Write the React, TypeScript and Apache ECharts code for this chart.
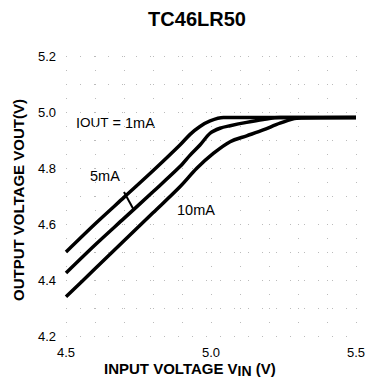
import React, { useEffect, useRef } from "react";
import * as echarts from "echarts";

const title = "TC46LR50";
const xTicks = [4.5, 5.0, 5.5];
const yTicks = [4.2, 4.4, 4.6, 4.8, 5.0, 5.2];

const vin1 = [4.5, 4.6, 4.7, 4.8, 4.893, 4.928, 4.962, 4.997, 5.043, 5.5];
const vout1 = [4.5, 4.6, 4.695, 4.79, 4.882, 4.92, 4.948, 4.968, 4.98, 4.98];

const vin5 = [4.5, 4.6, 4.7, 4.8, 4.893, 4.928, 4.962, 4.997, 5.031, 5.066, 5.123, 5.18, 5.238, 5.5];
const vout5 = [4.425, 4.525, 4.62, 4.715, 4.805, 4.846, 4.882, 4.924, 4.942, 4.951, 4.963, 4.973, 4.98, 4.98];

const vin10 = [4.5, 4.6, 4.7, 4.8, 4.893, 4.951, 5.008, 5.066, 5.123, 5.18, 5.238, 5.296, 5.5];
const vout10 = [4.34, 4.44, 4.54, 4.64, 4.733, 4.799, 4.852, 4.894, 4.915, 4.936, 4.96, 4.978, 4.98];

const leaderX = [4.7, 4.734];
const leaderY = [4.714, 4.65];

const zip = (a: number[], b: number[]) => a.map((v, i) => [v, b[i]]);

export default function App() {
  const ref = useRef<HTMLDivElement>(null);
  useEffect(() => {
    if (!ref.current) return;
    document.body.style.margin = "0";
    const chart = echarts.init(ref.current, undefined, { renderer: "svg" });
    const font = "'Liberation Sans', Arial, sans-serif";
    const lineSeries = (name: string, data: number[][], width = 3.5) => ({
      type: "line",
      name,
      data,
      showSymbol: false,
      smooth: 0.3,
      lineStyle: { color: "#000", width },
      silent: true,
    });
    chart.setOption({
      animation: false,
      backgroundColor: "#fff",
      title: {
        text: title,
        left: 192,
        textAlign: "center",
        top: 4,
        textStyle: { fontFamily: font, fontWeight: "bold", fontSize: 20, color: "#000" },
      },
      grid: { left: 66, right: 24, top: 56, bottom: 48 },
      xAxis: {
        type: "value",
        min: 4.5,
        max: 5.5,
        interval: 0.1,
        axisLine: { show: false },
        axisTick: { show: false },
        axisLabel: {
          fontFamily: font,
          fontSize: 13,
          color: "#000",
          margin: 10,
          formatter: (v: number) => {
            const t = xTicks.find((x) => Math.abs(x - v) < 1e-6);
            return t !== undefined ? t.toFixed(1) : "";
          },
        },
        splitLine: { show: true, lineStyle: { color: "#bbb", type: [1, 13], width: 1 } },
      },
      yAxis: {
        type: "value",
        min: 4.2,
        max: 5.2,
        interval: 0.1,
        axisLine: { show: false },
        axisTick: { show: false },
        axisLabel: {
          fontFamily: font,
          fontSize: 13,
          color: "#000",
          margin: 10,
          formatter: (v: number) => {
            const t = yTicks.find((y) => Math.abs(y - v) < 1e-6);
            return t !== undefined ? t.toFixed(1) : "";
          },
        },
        splitLine: { show: true, lineStyle: { color: "#bbb", type: [1, 13], width: 1 } },
      },
      graphic: [
        {
          type: "text",
          left: 104,
          top: 361,
          style: {
            text: "{b|INPUT VOLTAGE V}{s|IN}{b| (V)}",
            rich: {
              b: { fontFamily: font, fontWeight: "bold", fontSize: 15, fill: "#000" },
              s: { fontFamily: font, fontWeight: "bold", fontSize: 14, fill: "#000", verticalAlign: "bottom", padding: [4, 0, 0, 0] },
            },
          },
        },
        {
          type: "text",
          x: 11,
          y: 301,
          rotation: Math.PI / 2,
          style: {
            text: "{b|OUTPUT VOLTAGE VOUT(V)}",
            rich: {
              b: { fontFamily: font, fontWeight: "bold", fontSize: 15, fill: "#000" },
            },
            verticalAlign: "top",
          },
        },
        {
          type: "text",
          left: 76,
          top: 115,
          style: {
            text: "{a|I}{s|OUT}{a| = 1mA}",
            rich: {
              a: { fontFamily: font, fontSize: 14.5, fill: "#000" },
              s: { fontFamily: font, fontSize: 13.5, fill: "#000" },
            },
          },
        },
        {
          type: "text",
          left: 90,
          top: 168,
          style: { text: "5mA", fontFamily: font, fontSize: 14.5, fill: "#000" },
        },
        {
          type: "text",
          left: 177,
          top: 202,
          style: { text: "10mA", fontFamily: font, fontSize: 14.5, fill: "#000" },
        },
      ],
      series: [
        lineSeries("1mA", zip(vin1, vout1)),
        lineSeries("5mA", zip(vin5, vout5)),
        lineSeries("10mA", zip(vin10, vout10)),
        { ...lineSeries("leader", zip(leaderX, leaderY), 2), smooth: false },
      ],
    });
    return () => chart.dispose();
  }, []);
  return <div ref={ref} style={{ width: 380, height: 384 }} />;
}
